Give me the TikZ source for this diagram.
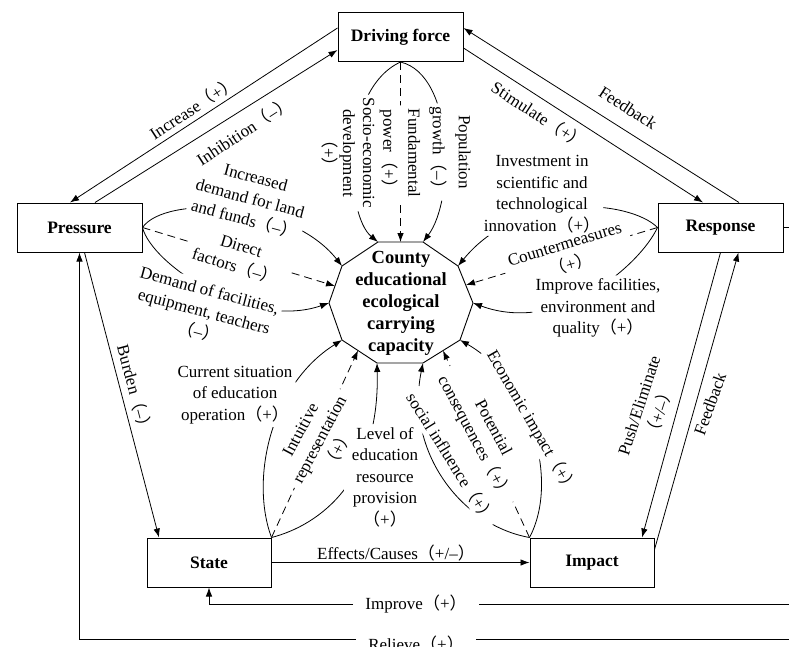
\documentclass[tikz,border=0pt]{standalone}
\usepackage{fontspec}
\setmainfont{Liberation Serif}
\newfontfamily\cjkf{Noto Sans CJK SC}
\usetikzlibrary{arrows.meta}
\newcommand\plab[1]{{\cjkf （}#1{\cjkf ）}}
\begin{document}
\begin{tikzpicture}[x=1pt,y=-1pt,
  box/.style={draw,line width=1pt,minimum width=125pt,minimum height=49pt,inner sep=0pt,font=\fontsize{17.5}{20}\selectfont\bfseries},
  lab/.style={font=\fontsize{17}{21.5}\selectfont,align=center,inner sep=3pt},
  conn/.style={line width=0.8pt},
  arr/.style={conn,-{Latex[length=9pt,width=6.5pt]}},
  dsh/.style={dash pattern=on 8pt off 5pt},
]
\useasboundingbox (0,0) rectangle (789,646);
% ---------------- boxes
\node[box] (DF) at (400.5,37) {Driving force};
\node[box] (P) at (79.5,227.5) {Pressure};
\node[box] (R) at (720.5,227.5) {Response};
\node[box,minimum width=124pt] (S) at (209,562.5) {State};
\node[box,minimum width=124pt] (I) at (592,562.5) {Impact};
% ---------------- central decagon
\coordinate (vTL) at (378,242);
\coordinate (vTR) at (423,242);
\coordinate (vUR) at (458,266);
\coordinate (vR)  at (473,303);
\coordinate (vLR) at (460,340);
\coordinate (vBR) at (423,363);
\coordinate (vBL) at (377,363);
\coordinate (vLL) at (342,340);
\coordinate (vL)  at (329,303);
\coordinate (vUL) at (342,266);
\coordinate (mTop) at (400.5,242);
\coordinate (pDir) at (335,286);
\coordinate (pCm)  at (466,285);
\coordinate (pInt) at (358,350.5);
\coordinate (pPot) at (443,350.6);
\draw[line width=0.9pt] (vTL) -- (vTR) -- (vUR) -- (vR) -- (vLR) -- (vBR) -- (vBL) -- (vLL) -- (vL) -- (vUL) -- cycle;
\node[font=\fontsize{18.5}{22}\selectfont\bfseries,align=center] (C) at (401,303) {County\\educational\\ecological\\carrying\\capacity};
% ---------------- edge-side coordinates
\coordinate (rOut) at (789,227.5);
\coordinate (impR) at (789,604);
\coordinate (relR) at (789,639);
% ---------------- labels of the outer links
\node[lab,rotate=33] (incLab) at (193,108) {Increase\plab{+}};
\node[lab,rotate=33] (inhLab) at (244,131) {Inhibition\plab{–}};
\node[lab,rotate=-33] (stiLab) at (539,115) {Stimulate\plab{+}};
\node[lab,rotate=-33] (fbLab) at (628,108) {Feedback};
\node[lab,rotate=72] (pushLab) at (650,409) {Push/Eliminate\\\plab{+/–}};
\node[lab,rotate=70] (fbbLab) at (710,404) {Feedback};
\node[lab,rotate=-75] (burLab) at (135,390) {Burden\plab{–}};
\node[lab,anchor=base] (effLab) at (396,559) {Effects/Causes\plab{+/–}};
\node[lab,anchor=base,inner xsep=12pt] (impLab) at (416,609.5) {Improve\plab{+}};
\node[lab,anchor=base,inner xsep=12pt] (relLab) at (416,650) {Relieve\plab{+}};
% ---------------- labels around the capacity
\node[lab,rotate=-90,font=\fontsize{17}{20}\selectfont] (socLab) at (348,153) {Socio-economic\\development\\\plab{+}};
\node[lab,rotate=-90,font=\fontsize{17}{25}\selectfont] (funLab) at (400,153) {Fundamental\\power\plab{+}};
\node[lab,rotate=-90,font=\fontsize{17}{26}\selectfont] (popLab) at (450,152) {Population\\growth\plab{–}};
\node[lab,rotate=-15] (incdLab) at (250,199) {Increased\\demand for land\\and funds\plab{–}};
\node[lab,rotate=-17,inner xsep=8pt] (dirLab) at (238,257) {Direct\\factors\plab{–}};
\node[lab,rotate=-15] (demLab) at (204,312) {Demand of facilities,\\equipment, teachers\\\plab{–}};
\node[lab] (invLab) at (542,194) {Investment in\\scientific and\\technological\\innovation\plab{+}};
\node[lab,rotate=17,inner xsep=6pt] (cmLab) at (568,255) {Countermeasures\\\plab{+}};
\node[lab] (impfLab) at (598,308) {Improve facilities,\\environment and\\quality\plab{+}};
\node[lab] (curLab) at (235,395) {Current situation\\of education\\operation\plab{+}};
\node[lab,rotate=62,inner xsep=6pt] (intLab) at (320,440) {Intuitive\\representation\\\plab{+}};
\node[lab,inner xsep=8pt] (levLab) at (385,477) {Level of\\education\\resource\\provision\\\plab{+}};
\node[lab,rotate=-60] (ecoLab) at (532,422) {Economic impact\plab{+}};
\node[lab,rotate=-62,inner xsep=6pt] (potLab) at (483,433) {Potential\\consequences\plab{+}};
\node[lab,rotate=-58] (sinLab) at (451,458) {social influence\plab{+}};
% ---------------- links between the boxes
\draw[arr] ([yshift=9pt]DF.west) -- ([xshift=-9.5pt]P.north);
\draw[arr] ([xshift=15.5pt]P.north) -- ([yshift=-13pt]DF.west);
\draw[arr] ([yshift=-11pt]DF.east) -- ([xshift=-17.5pt]R.north);
\draw[arr] ([xshift=18.5pt]R.north) -- ([yshift=9pt]DF.east);
\draw[arr] (R.south) -- ([xshift=50pt]I.north);
\draw[arr] ([yshift=-12pt]I.north east) -- ([xshift=18pt]R.south);
\draw[arr] ([xshift=5pt]P.south) -- ([xshift=-50pt]S.north);
\draw[arr] (S.east) -- (I.west);
\draw[conn] (R.east) -- (rOut);
\draw[conn] (impR) -- (impLab.east |- impR);
\draw[arr] (impLab.west |- impR) -| (S.south);
\draw[conn] (relR) -- (relLab.east |- relR);
\draw[arr] (relLab.west |- relR) -| (P.south);
% ---------------- links into the capacity (hidden under their labels)
\begin{scope}[even odd rule]
\clip (-20,-20) rectangle (810,670) (socLab.north west) -- (socLab.north east) -- (socLab.south east) -- (socLab.south west) -- cycle;
\draw[arr] (DF.south) .. controls (340,90) and (345,215) .. (vTL);
\end{scope}
\begin{scope}[even odd rule]
\clip (-20,-20) rectangle (810,670) (funLab.north west) -- (funLab.north east) -- (funLab.south east) -- (funLab.south west) -- cycle;
\draw[arr,dsh] (DF.south) -- (mTop);
\end{scope}
\begin{scope}[even odd rule]
\clip (-20,-20) rectangle (810,670) (popLab.north west) -- (popLab.north east) -- (popLab.south east) -- (popLab.south west) -- cycle;
\draw[arr] (DF.south) .. controls (455,75) and (455,200) .. (vTR);
\end{scope}
\begin{scope}[even odd rule]
\clip (-20,-20) rectangle (810,670) (incdLab.north west) -- (incdLab.north east) -- (incdLab.south east) -- (incdLab.south west) -- cycle;
\draw[arr] (P.east) .. controls (165,195) and (290,200) .. (vUL);
\end{scope}
\begin{scope}[even odd rule]
\clip (-20,-20) rectangle (810,670) (dirLab.north west) -- (dirLab.north east) -- (dirLab.south east) -- (dirLab.south west) -- cycle;
\draw[arr,dsh] (P.east) -- (pDir);
\end{scope}
\begin{scope}[even odd rule]
\clip (-20,-20) rectangle (810,670) (demLab.north west) -- (demLab.north east) -- (demLab.south east) -- (demLab.south west) -- cycle;
\draw[arr] (P.east) .. controls (152,265) and (250,330) .. (vL);
\end{scope}
\begin{scope}[even odd rule]
\clip (-20,-20) rectangle (810,670) (invLab.north west) -- (invLab.north east) -- (invLab.south east) -- (invLab.south west) -- cycle;
\draw[arr] (R.west) .. controls (630,200) and (520,190) .. (vUR);
\end{scope}
\begin{scope}[even odd rule]
\clip (-20,-20) rectangle (810,670) (cmLab.north west) -- (cmLab.north east) -- (cmLab.south east) -- (cmLab.south west) -- cycle;
\draw[arr,dsh] (R.west) -- (pCm);
\end{scope}
\begin{scope}[even odd rule]
\clip (-20,-20) rectangle (810,670) (impfLab.north west) -- (impfLab.north east) -- (impfLab.south east) -- (impfLab.south west) -- cycle;
\draw[arr] (R.west) .. controls (640,265) and (560,335) .. (vR);
\end{scope}
\begin{scope}[even odd rule]
\clip (-20,-20) rectangle (810,670) (curLab.north west) -- (curLab.north east) -- (curLab.south east) -- (curLab.south west) -- cycle;
\draw[arr] (S.north east) .. controls (250,480) and (270,385) .. (vLL);
\end{scope}
\begin{scope}[even odd rule]
\clip (-20,-20) rectangle (810,670) (intLab.north west) -- (intLab.north east) -- (intLab.south east) -- (intLab.south west) -- cycle;
\draw[arr,dsh] (S.north east) -- (pInt);
\end{scope}
\begin{scope}[even odd rule]
\clip (-20,-20) rectangle (810,670) (levLab.north west) -- (levLab.north east) -- (levLab.south east) -- (levLab.south west) -- cycle;
\draw[arr] (S.north east) .. controls (320,525) and (380,480) .. (vBL);
\end{scope}
\begin{scope}[even odd rule]
\clip (-20,-20) rectangle (810,670) (ecoLab.north west) -- (ecoLab.north east) -- (ecoLab.south east) -- (ecoLab.south west) -- cycle;
\draw[arr] (I.north west) .. controls (560,480) and (530,380) .. (vLR);
\end{scope}
\begin{scope}[even odd rule]
\clip (-20,-20) rectangle (810,670) (potLab.north west) -- (potLab.north east) -- (potLab.south east) -- (potLab.south west) -- cycle;
\draw[arr,dsh] (I.north west) -- (pPot);
\end{scope}
\begin{scope}[even odd rule]
\clip (-20,-20) rectangle (810,670) (sinLab.north west) -- (sinLab.north east) -- (sinLab.south east) -- (sinLab.south west) -- cycle;
\draw[arr] (I.north west) .. controls (460,525) and (405,450) .. (vBR);
\end{scope}
\end{tikzpicture}
\end{document}
